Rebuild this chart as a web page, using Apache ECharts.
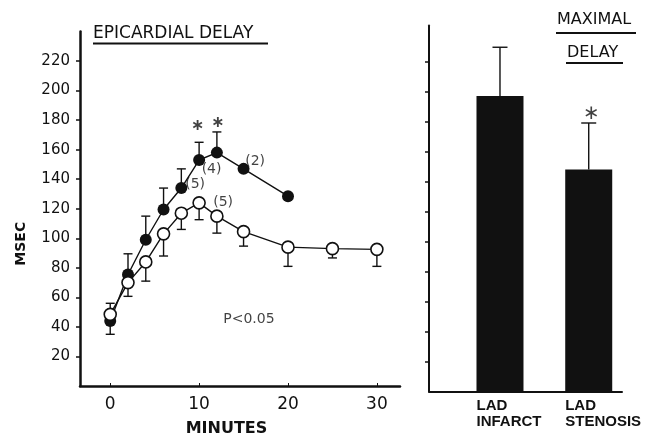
<!DOCTYPE html>
<html>
<head>
<meta charset="utf-8">
<script src="https://cdn.jsdelivr.net/npm/echarts@6/dist/echarts.min.js"></script>
<style>
  html, body { margin: 0; padding: 0; background: #fff; }
  #main { width: 651px; height: 442px; }
</style>
</head>
<body>
<div id="main"></div>
<script>
var chartDom = document.getElementById('main');
var myChart = echarts.init(chartDom);
var option;

// time course, minutes
const infarctTimes = [0, 2, 4, 6, 8, 10, 12, 15, 20];
const infarctMsec = [44, 75.5, 99, 119.5, 134, 153, 158, 147, 128.5];
const infarctErrEnd = [35, 89.5, 115, 134, 147, 165, 172, null, null];

const stenosisTimes = [0, 2, 4, 6, 8, 10, 12, 15, 20, 25, 30];
const stenosisMsec = [48.5, 70, 84, 103, 117, 124, 115, 104.5, 94, 93, 92.5];
const stenosisErrEnd = [56, 60.7, 71, 88, 106, 112.6, 103.5, 94.7, 81, 86.7, 81];

// maximal delay bars
const barNames = ['LAD\nINFARCT', 'LAD\nSTENOSIS'];
const barX = [1, 2];
const barMsec = [197, 148];
const barErrEnd = [229.5, 179];

const yTicks = [20, 40, 60, 80, 100, 120, 140, 160, 180, 200, 220];
const xTicks = [0, 10, 20, 30];

// n labels and significance marks, [x, y, text]
const notes = [
    [11.4, 147, '(4)'],
    [9.55, 136.5, '(5)'],
    [16.3, 152, '(2)'],
    [12.7, 124, '(5)']
];
const stars = [[9.8, 176], [12.1, 178]];
const barStars = [[2.03, 185]];
const pNote = [[15.6, 45, 'P<0.05']];

const ink = '#111';
const font = 'DejaVu Sans';
const labelShift = 0.265; // bar labels start at the bar's left edge

function pairs(xs, ys) {
    return xs.map((x, i) => [x, ys[i]]);
}
function errData(xs, ys, ends) {
    const out = [];
    for (var i = 0; i < xs.length; i++) {
        if (ends[i] != null) out.push([xs[i], ys[i], ends[i]]);
    }
    return out;
}
function errorBar(cap) {
    return function (params, api) {
        const p1 = api.coord([api.value(0), api.value(1)]);
        const p2 = api.coord([api.value(0), api.value(2)]);
        const st = { stroke: ink, lineWidth: 1.4 };
        return {
            type: 'group',
            children: [
                { type: 'line', shape: { x1: p1[0], y1: p1[1], x2: p2[0], y2: p2[1] }, style: st },
                { type: 'line', shape: { x1: p2[0] - cap, y1: p2[1], x2: p2[0] + cap, y2: p2[1] }, style: st }
            ]
        };
    };
}

option = {
    animation: false,
    backgroundColor: '#fff',
    textStyle: { fontFamily: font, color: ink },
    graphic: [
        { type: 'text', left: 93, top: 25, style: { text: 'EPICARDIAL DELAY', font: '17px "DejaVu Sans"', fill: ink } },
        { type: 'line', shape: { x1: 93, y1: 43.5, x2: 268, y2: 43.5 }, style: { stroke: ink, lineWidth: 2 } },
        { type: 'text', left: 557, top: 12, style: { text: 'MAXIMAL', font: '16px "DejaVu Sans"', fill: ink } },
        { type: 'line', shape: { x1: 556, y1: 33, x2: 636, y2: 33 }, style: { stroke: ink, lineWidth: 2 } },
        { type: 'text', left: 567, top: 45, style: { text: 'DELAY', font: '16px "DejaVu Sans"', fill: ink } },
        { type: 'line', shape: { x1: 566, y1: 63, x2: 623, y2: 63 }, style: { stroke: ink, lineWidth: 2 } }
    ],
    grid: [
        { left: 80, right: 251, top: 31.5, bottom: 50.5 },
        { left: 429, right: 29, top: 25.5, bottom: 50.5 }
    ],
    xAxis: [
        {
            type: 'value',
            gridIndex: 0,
            min: -3.4,
            max: 32.6,
            name: 'MINUTES',
            nameLocation: 'middle',
            nameGap: 35,
            nameTextStyle: { fontFamily: font, fontWeight: 'bold', fontSize: 16, color: ink, padding: [0, 27, 0, 0] },
            axisLine: { onZero: false, lineStyle: { color: ink, width: 2.5 } },
            axisTick: { show: true, inside: true, length: 3, customValues: xTicks, lineStyle: { color: ink } },
            axisLabel: { customValues: xTicks, fontSize: 17, color: ink, margin: 10, fontFamily: font },
            splitLine: { show: false }
        },
        {
            type: 'value',
            gridIndex: 1,
            min: 0.2,
            max: 2.375,
            axisLine: { onZero: false, lineStyle: { color: ink, width: 2 } },
            axisTick: { show: false },
            axisLabel: {
                show: true,
                customValues: barX.map(v => v - labelShift),
                formatter: function (v) {
                    return barNames[Math.round(v + labelShift) - 1] || '';
                },
                align: 'left',
                fontFamily: 'Liberation Sans',
                fontWeight: 'bold',
                fontSize: 15,
                lineHeight: 16,
                color: ink,
                margin: 6
            },
            splitLine: { show: false }
        }
    ],
    yAxis: [
        {
            type: 'value',
            gridIndex: 0,
            min: 0,
            max: 240,
            name: 'MSEC',
            nameLocation: 'middle',
            nameGap: 52,
            nameTextStyle: { fontFamily: font, fontWeight: 'bold', fontSize: 14, color: ink, padding: [0, 70, 0, 0] },
            axisLine: { show: true, onZero: false, lineStyle: { color: ink, width: 2.5 } },
            axisTick: { show: true, length: 4, customValues: yTicks, lineStyle: { color: ink, width: 1.5 } },
            axisLabel: { customValues: yTicks, fontSize: 15, color: ink, margin: 10, fontFamily: font },
            splitLine: { show: false }
        },
        {
            type: 'value',
            gridIndex: 1,
            min: 0,
            max: 244,
            axisLine: { show: true, onZero: false, lineStyle: { color: ink, width: 2 } },
            axisTick: { show: true, length: 4, customValues: yTicks, lineStyle: { color: ink, width: 1.5 } },
            axisLabel: { show: false },
            splitLine: { show: false }
        }
    ],
    series: [
        {
            name: 'infarct error',
            type: 'custom',
            xAxisIndex: 0, yAxisIndex: 0,
            z: 1,
            renderItem: errorBar(4.5),
            data: errData(infarctTimes, infarctMsec, infarctErrEnd)
        },
        {
            name: 'stenosis error',
            type: 'custom',
            xAxisIndex: 0, yAxisIndex: 0,
            z: 1,
            renderItem: errorBar(4.5),
            data: errData(stenosisTimes, stenosisMsec, stenosisErrEnd)
        },
        {
            name: 'LAD infarct',
            type: 'line',
            xAxisIndex: 0, yAxisIndex: 0,
            z: 3,
            data: pairs(infarctTimes, infarctMsec),
            symbol: 'circle',
            symbolSize: 12,
            itemStyle: { color: ink },
            lineStyle: { color: ink, width: 1.4 }
        },
        {
            name: 'LAD stenosis',
            type: 'line',
            xAxisIndex: 0, yAxisIndex: 0,
            z: 4,
            data: pairs(stenosisTimes, stenosisMsec),
            symbol: 'circle',
            symbolSize: 12,
            itemStyle: { color: '#fff', borderColor: ink, borderWidth: 1.6 },
            lineStyle: { color: ink, width: 1.4 }
        },
        {
            name: 'notes',
            type: 'scatter',
            xAxisIndex: 0, yAxisIndex: 0,
            symbolSize: 0,
            data: notes.concat(pNote).map(n => ({ value: [n[0], n[1]], name: n[2] })),
            label: { show: true, position: 'inside', formatter: '{b}', fontSize: 14, color: ink, fontFamily: font }
        },
        {
            name: 'stars',
            type: 'scatter',
            xAxisIndex: 0, yAxisIndex: 0,
            symbolSize: 0,
            data: stars,
            label: { show: true, position: 'inside', formatter: '\u2217', fontSize: 16, fontWeight: 'bold', color: ink, fontFamily: font }
        },
        {
            name: 'max delay error',
            type: 'custom',
            xAxisIndex: 1, yAxisIndex: 1,
            z: 1,
            renderItem: errorBar(7.5),
            data: errData(barX, barMsec, barErrEnd)
        },
        {
            name: 'max delay',
            type: 'bar',
            xAxisIndex: 1, yAxisIndex: 1,
            z: 3,
            barWidth: 47,
            data: pairs(barX, barMsec),
            itemStyle: { color: ink }
        },
        {
            name: 'bar stars',
            type: 'scatter',
            xAxisIndex: 1, yAxisIndex: 1,
            symbolSize: 0,
            data: barStars,
            label: { show: true, position: 'inside', formatter: '\u2217', fontSize: 20, color: ink, fontFamily: font }
        }
    ]
};

option && myChart.setOption(option);
</script>
</body>
</html>
